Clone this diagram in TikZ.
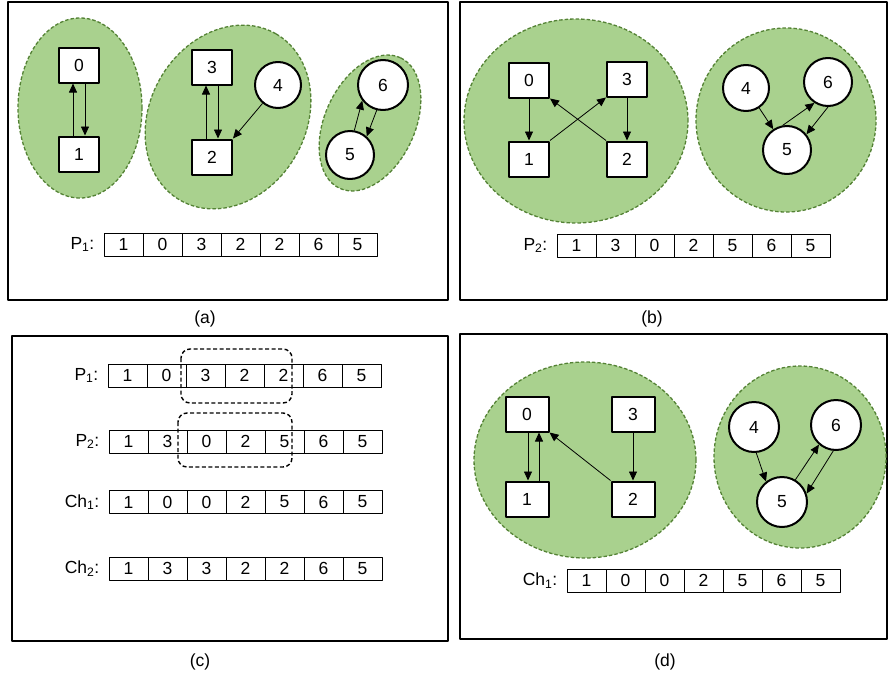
\documentclass[tikz,border=0pt]{standalone}
\usepackage{fontspec}
\setmainfont{Liberation Sans}
\usetikzlibrary{arrows.meta}
\definecolor{grpfill}{HTML}{A9D18E}
\definecolor{grpline}{HTML}{548235}

\begin{document}
\begin{tikzpicture}[x=1pt,y=-1pt,line join=round,
  font=\fontsize{17.5}{20}\selectfont,
  panel/.style={draw,line width=1.4pt},
  grp/.style={fill=grpfill,draw=grpline,line width=1.3pt,dash pattern=on 3.5pt off 2pt},
  vbox/.style={draw,fill=white,line width=2pt,minimum width=40pt,minimum height=35pt,inner sep=0pt},
  vcirc/.style={circle,draw,fill=white,line width=2pt,minimum size=48pt,inner sep=0pt},
  cell/.style={draw,line width=0.9pt,minimum width=39pt,minimum height=23pt,inner sep=0pt},
  lbl/.style={anchor=east,inner sep=0pt,xshift=-9pt},
  arr/.style={-{Triangle[length=9pt,width=8pt]},line width=0.8pt},
  selbox/.style={line width=1.4pt,dash pattern=on 4pt off 2.5pt,rounded corners=9pt}]
  \useasboundingbox (0,0) rectangle (890,680);
  % frames and captions
  \draw[panel] (8,2) rectangle (448,300);
  \draw[panel] (460,2) rectangle (887,300);
  \draw[panel] (12,336) rectangle (448,641);
  \draw[panel] (460,334) rectangle (887,639);
  \node (capa) at (205,319) {(a)};
  \node (capb) at (652,319) {(b)};
  \node (capc) at (200,662) {(c)};
  \node (capd) at (665,662) {(d)};

  % (a) parent 1
  \draw[grp] (80,108) ellipse [x radius=62pt,y radius=90pt];
  \draw[grp] (228,117) ellipse [x radius=96pt,y radius=78pt,rotate=60];
  \draw[grp] (370,123) ellipse [x radius=72pt,y radius=45pt,rotate=65];
  \node[vbox] (a0) at (79,65) {0};
  \node[vbox] (a1) at (79,154) {1};
  \node[vbox] (a3) at (212,67) {3};
  \node[vbox] (a2) at (212,157) {2};
  \node[vcirc,minimum size=46pt] (a4) at (278,85) {4};
  \node[vcirc,minimum size=50pt] (a6) at (383,85) {6};
  \node[vcirc] (a5) at (350,155) {5};
  \draw[arr] ([xshift=-6pt]a1.north) -- ([xshift=-6pt]a0.south);
  \draw[arr] ([xshift=6pt]a0.south) -- ([xshift=6pt]a1.north);
  \draw[arr] ([xshift=-6pt]a2.north) -- ([xshift=-6pt]a3.south);
  \draw[arr] ([xshift=6pt]a3.south) -- ([xshift=6pt]a2.north);
  \draw[arr] (a4) -- (a2.north east);
  \draw[arr] (a5.80) -- (a6.217);
  \draw[arr] (a6.256) -- (a5.48);
  \foreach \v [count=\i] in {1,0,3,2,2,6,5}
    \node[cell] (pa\i) at (84.5+39*\i,244.5) {\v};
  \node[lbl] (pal) at (pa1.west) {P\textsubscript{1}:};

  % (b) parent 2
  \draw[grp] (576,121) ellipse [x radius=112pt,y radius=102pt];
  \draw[grp] (786,120) ellipse [x radius=90pt,y radius=92pt];
  \node[vbox] (b0) at (529,80) {0};
  \node[vbox] (b3) at (627,79) {3};
  \node[vbox] (b1) at (529,159) {1};
  \node[vbox] (b2) at (627,159) {2};
  \node[vcirc,minimum size=46pt] (b4) at (746,88) {4};
  \node[vcirc] (b6) at (828,82) {6};
  \node[vcirc] (b5) at (787,150) {5};
  \draw[arr] (b0) -- (b1);
  \draw[arr] (b3) -- (b2);
  \draw[arr] (b1.north east) -- (b3.south west);
  \draw[arr] (b2.north west) -- (b0.south east);
  \draw[arr] (b4) -- (b5);
  \draw[arr] (b5.100) -- (b6.237);
  \draw[arr] (b6.270) -- (b5.39);
  \foreach \v [count=\i] in {1,3,0,2,5,6,5}
    \node[cell] (pb\i) at (537.5+39*\i,245.5) {\v};
  \node[lbl] (pbl) at (pb1.west) {P\textsubscript{2}:};

  % (c) crossover
  \foreach \v [count=\i] in {1,0,3,2,2,6,5}
    \node[cell] (ca\i) at (88.5+39*\i,375.5) {\v};
  \foreach \v [count=\i] in {1,3,0,2,5,6,5}
    \node[cell] (cb\i) at (89.5+39*\i,441.5) {\v};
  \foreach \v [count=\i] in {1,0,0,2,5,6,5}
    \node[cell] (cc\i) at (89.5+39*\i,502) {\v};
  \foreach \v [count=\i] in {1,3,3,2,2,6,5}
    \node[cell] (cd\i) at (89.5+39*\i,568.5) {\v};
  \node[lbl] (cal) at (ca1.west) {P\textsubscript{1}:};
  \node[lbl] (cbl) at (cb1.west) {P\textsubscript{2}:};
  \node[lbl] (ccl) at (cc1.west) {Ch\textsubscript{1}:};
  \node[lbl] (cdl) at (cd1.west) {Ch\textsubscript{2}:};
  \draw[selbox] (181,349) rectangle (292,403);
  \draw[selbox] (178,413) rectangle (292,467);

  % (d) child 1
  \draw[grp] (585,460) ellipse [x radius=111pt,y radius=98pt];
  \draw[grp] (800,457) ellipse [x radius=86pt,y radius=91pt];
  \node[vbox,minimum width=43pt] (d0) at (527,414) {0};
  \node[vbox,minimum width=43pt] (d3) at (633,414) {3};
  \node[vbox,minimum width=43pt] (d1) at (527,499) {1};
  \node[vbox,minimum width=43pt] (d2) at (633,499) {2};
  \node[vcirc,minimum size=50pt] (d4) at (754,427) {4};
  \node[vcirc,minimum size=50pt] (d6) at (836,425) {6};
  \node[vcirc,minimum size=50pt] (d5) at (782,502) {5};
  \draw[arr] ([xshift=1pt]d0.south) -- ([xshift=1pt]d1.north);
  \draw[arr] ([xshift=12pt]d1.north) -- ([xshift=12pt]d0.south);
  \draw[arr] (d3) -- (d2);
  \draw[arr] (d2.north west) -- (d0.south east);
  \draw[arr] (d4.-85) -- (d5.128);
  \draw[arr] (d5.59) -- (d6.229);
  \draw[arr] (d6.264) -- (d5.19);
  \foreach \v [count=\i] in {1,0,0,2,5,6,5}
    \node[cell] (dc\i) at (547.5+39*\i,580.5) {\v};
  \node[lbl] (dcl) at (dc1.west) {Ch\textsubscript{1}:};
\end{tikzpicture}
\end{document}
